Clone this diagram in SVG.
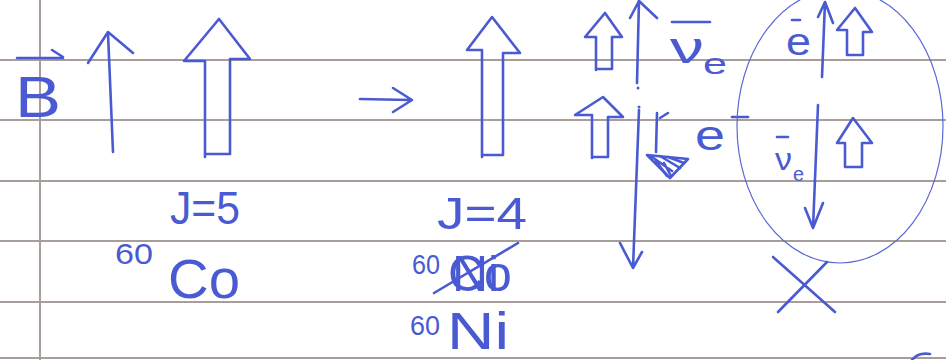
<svg xmlns="http://www.w3.org/2000/svg" width="946" height="360" viewBox="0 0 946 360">
<style>
.rule{stroke:#a99d99;stroke-width:2;fill:none}
.ink{stroke:#4a5ad2;stroke-width:2.6;fill:none;stroke-linecap:round;stroke-linejoin:round}
.thin{stroke:#5a68d4;stroke-width:1.2;fill:none}
.t{fill:#4a5ad2;font-family:"Liberation Sans","DejaVu Sans",sans-serif}
</style>
<rect width="946" height="360" fill="#ffffff"/>
<g id="paper">
<path class="rule" d="M0 60H946M0 120H946M0 181H946M0 241H946M0 302H946M0 358H946"/>
<path class="rule" d="M40 0V360" stroke="#b5aeac"/>
</g>
<g id="field-B">
<path class="ink" d="M17 58H63M52 50L63 57"/>
<text class="t" x="15" y="117" font-size="57" textLength="46" lengthAdjust="spacingAndGlyphs">B</text>
<path class="ink" d="M113 152L108 33M88 63L108 32L133 53"/>
</g>
<g id="co-spin">
<path class="ink" d="M205 157V61H184L219 19L250 59H230V154H205"/>
<text class="t" x="170" y="224" font-size="46" textLength="70" lengthAdjust="spacingAndGlyphs">J=5</text>
<text class="t" x="115" y="264" font-size="30" textLength="38" lengthAdjust="spacingAndGlyphs">60</text>
<text class="t" x="168" y="298" font-size="56" textLength="72" lengthAdjust="spacingAndGlyphs">Co</text>
</g>
<g id="transition">
<path class="ink" d="M360 99L410 100M393 88L412 100L393 112"/>
</g>
<g id="ni-spin">
<path class="ink" d="M482 157V50H467L492 17L520 53H503V155H482"/>
<text class="t" x="437" y="229" font-size="44" textLength="90" lengthAdjust="spacingAndGlyphs">J=4</text>
<text class="t" x="412" y="274" font-size="27" textLength="28" lengthAdjust="spacingAndGlyphs">60</text>
<text class="t" x="448" y="291" font-size="50"><tspan>Co</tspan><tspan dx="-60">Ni</tspan></text>
<path class="ink" d="M434 293L518 243"/>
<text class="t" x="410" y="335" font-size="28" textLength="30" lengthAdjust="spacingAndGlyphs">60</text>
<text class="t" x="447" y="349" font-size="52" textLength="62" lengthAdjust="spacingAndGlyphs">Ni</text>
</g>
<g id="decay-left">
<path class="ink" d="M596 70V37H585L605 13L622 37H612V69H596"/>
<path class="ink" d="M592 158V115H575L603 97L623 117H608V157H592"/>
<path class="ink" d="M637 83L639 0M630 18L639 1L657 18"/>
<circle cx="638" cy="88" r="1.5" fill="#4a5ad2"/>
<circle cx="639" cy="107" r="1.5" fill="#4a5ad2"/>
<path class="ink" d="M639 110L633 268M620 243L633 268L642 252"/>
<path class="ink" d="M672 22H710"/>
<text class="t" x="670" y="63" font-size="44" textLength="34" lengthAdjust="spacingAndGlyphs">ν</text>
<text class="t" x="703" y="74" font-size="30" textLength="24" lengthAdjust="spacingAndGlyphs">e</text>
<path class="ink" d="M657 113L656 152M660 118L668 113M647 155L688 159L670 178Z"/>
<path class="ink" stroke-width="1.6" d="M652 157L672 171M660 156L680 168M668 157L684 163M656 161L667 176M664 163L671 176"/>
<text class="t" x="695" y="150" font-size="42" textLength="30" lengthAdjust="spacingAndGlyphs">e</text>
<path class="ink" d="M732 117H748"/>
</g>
<g id="forbidden">
<ellipse class="thin" cx="840" cy="126" rx="103" ry="137"/>
<path class="ink" d="M792 20H800"/>
<text class="t" x="786" y="55" font-size="38" textLength="25" lengthAdjust="spacingAndGlyphs">e</text>
<path class="ink" d="M822 77L825 2M818 17L825 2L833 23"/>
<path class="ink" d="M847 55V30H837L855 8L872 32H863V55H847"/>
<path class="ink" d="M777 137H788"/>
<text class="t" x="775" y="170" font-size="32" textLength="17" lengthAdjust="spacingAndGlyphs">ν</text>
<text class="t" x="793" y="181" font-size="20" textLength="11" lengthAdjust="spacingAndGlyphs">e</text>
<path class="ink" d="M818 105L813 228M805 208L813 228L823 203"/>
<path class="ink" d="M845 167V143H837L853 118L872 143H862V167H845"/>
<path class="ink" d="M773 257L835 312M827 262L778 312"/>
</g>
<path class="ink" d="M912 360Q918 352 930 354"/>
</svg>
